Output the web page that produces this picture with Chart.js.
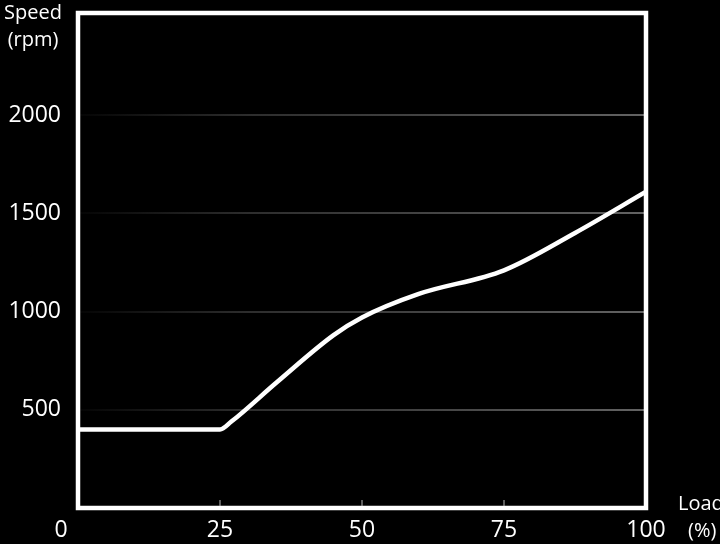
<!DOCTYPE html>
<html>
<head>
<meta charset="utf-8">
<script src="https://cdn.jsdelivr.net/npm/chart.js@4/dist/chart.umd.min.js"></script>
<style>
  html, body { margin: 0; padding: 0; background: #000; }
  #wrap { width: 720px; height: 544px; }
</style>
</head>
<body>
<div id="wrap"><canvas id="myChart" width="720" height="544"></canvas></div>
<script>
// values
const loadValues = [0, 25, 27, 35, 45, 50, 60, 75, 87.5, 100];
const speedValues = [400, 400, 440, 640, 880, 970, 1090, 1210, 1400, 1610];
const xTicks = [0, 25, 50, 75, 100];
const yTicks = [500, 1000, 1500, 2000];
const yTitle = ['Speed', '(rpm)'];
const xTitle = ['Load', '(%)'];

const FONT = '"Open Sans", "Noto Sans", sans-serif';

const points = loadValues.map((v, i) => ({x: v, y: speedValues[i]}));

// fading grid colour, darker to the left
const gridColor = ctx => {
    const chart = ctx.chart;
    const area = chart.chartArea;
    if (!area) return '#444';
    const g = chart.ctx.createLinearGradient(area.left, 0, area.right, 0);
    g.addColorStop(0, 'rgba(90,90,90,0.05)');
    g.addColorStop(0.3, 'rgba(90,90,90,0.5)');
    g.addColorStop(1, 'rgba(110,110,110,0.9)');
    return g;
};

const framePlugin = {
    id: 'frame',
    afterDraw(chart) {
        const {ctx, chartArea: a, scales} = chart;
        ctx.save();
        // white box round the plot
        ctx.strokeStyle = '#fff';
        ctx.lineWidth = 4.5;
        ctx.strokeRect(a.left, a.top, a.right - a.left, a.bottom - a.top);
        // small ticks above the bottom edge
        ctx.lineWidth = 1;
        ctx.strokeStyle = '#bbb';
        [25, 50, 75].forEach(v => {
            const x = scales.x.getPixelForValue(v);
            ctx.beginPath();
            ctx.moveTo(x, a.bottom - 2);
            ctx.lineTo(x, a.bottom - 8);
            ctx.stroke();
        });
        // axis titles and the origin label
        ctx.fillStyle = '#fff';
        ctx.textBaseline = 'middle';
        ctx.font = '20px ' + FONT;
        ctx.textAlign = 'center';
        ctx.fillText(yTitle[0], 33, 13);
        ctx.fillText(yTitle[1], 33, 40);
        ctx.textAlign = 'left';
        ctx.fillText(xTitle[0], 678, 504);
        ctx.fillText(xTitle[1], 688, 531);
        ctx.font = '23px ' + FONT;
        ctx.textAlign = 'center';
        ctx.fillText('0', scales.x.getPixelForValue(0) - 17, 530);
        ctx.restore();
    }
};

new Chart(document.getElementById('myChart'), {
    type: 'line',
    data: {
        datasets: [{
            data: points,
            borderColor: '#fff',
            borderWidth: 4.5,
            pointRadius: 0,
            cubicInterpolationMode: 'monotone',
            fill: false
        }]
    },
    options: {
        responsive: false,
        animation: false,
        layout: {padding: {top: 13, right: 74, left: 0, bottom: 0}},
        plugins: {legend: {display: false}, tooltip: {enabled: false}},
        scales: {
            x: {
                type: 'linear',
                min: 0,
                max: 100,
                afterBuildTicks: scale => { scale.ticks = xTicks.map(v => ({value: v})); },
                afterFit: scale => {
                    scale.height = 36;
                    scale.paddingLeft = 0;
                    scale.paddingRight = 0;
                },
                grid: {display: false},
                border: {display: false},
                ticks: {
                    color: '#fff',
                    font: {family: FONT, size: 23},
                    padding: 1,
                    maxRotation: 0,
                    callback: v => (v === 0 ? '' : String(v))
                }
            },
            y: {
                min: 0,
                max: 2520,
                afterBuildTicks: scale => { scale.ticks = yTicks.map(v => ({value: v})); },
                afterFit: scale => {
                    scale.width = 78;
                    scale.paddingTop = 0;
                    scale.paddingBottom = 0;
                },
                grid: {color: gridColor, lineWidth: 2, drawTicks: false},
                border: {display: false},
                ticks: {
                    color: '#fff',
                    font: {family: FONT, size: 23},
                    padding: 17,
                    callback: v => String(v)
                }
            }
        }
    },
    plugins: [framePlugin]
});
</script>
</body>
</html>
